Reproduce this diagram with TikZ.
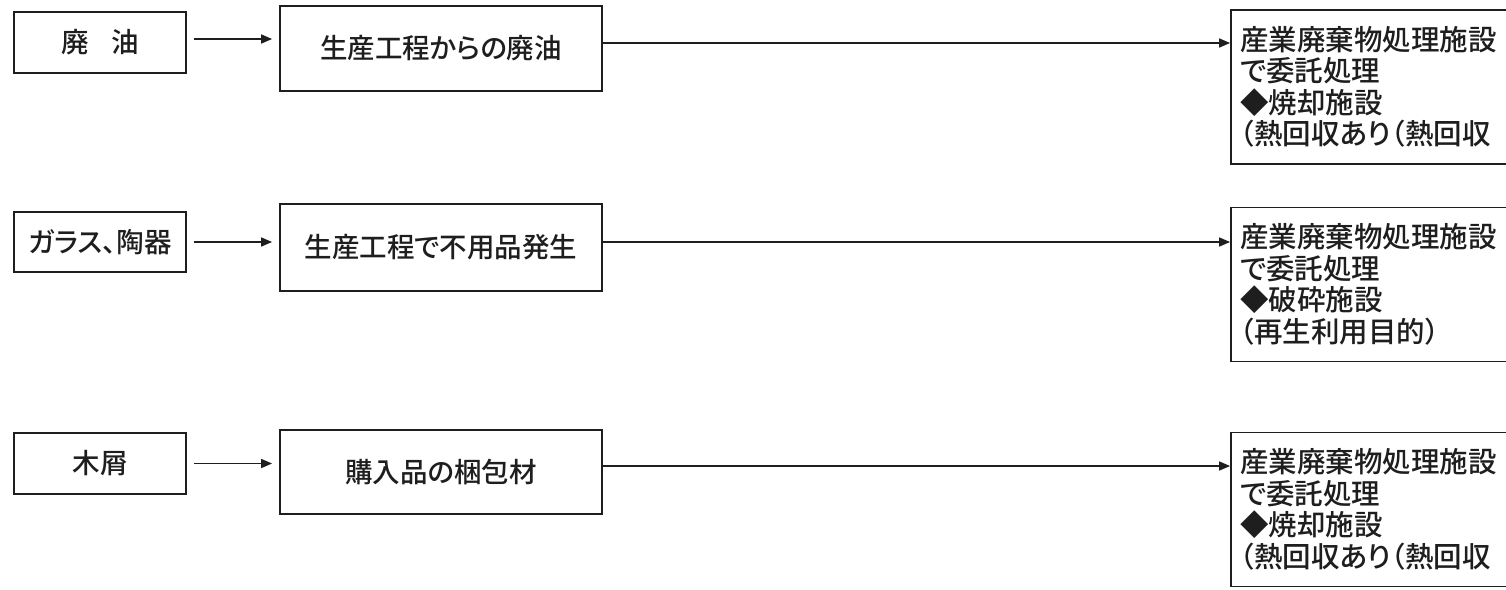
\documentclass[tikz,border=0pt]{standalone}
\usepackage{fontspec}
\setmainfont{Noto Sans CJK JP}[UprightFont=* Medium, RawFeature=+palt]
\usetikzlibrary{arrows.meta}
\definecolor{ink}{HTML}{1E1E1E}
\begin{document}
\begin{tikzpicture}[x=1pt,y=-1pt,
  box/.style={draw=ink, line width=1.8pt, rectangle, inner sep=0pt, text=ink,
    font=\fontsize{27.5}{31}\selectfont},
  srcbox/.style={box, minimum width=172pt},
  procbox/.style={box, minimum width=322pt},
  dstbox/.style={box, minimum width=281pt, minimum height=154pt, text width=268pt,
    align=left, inner xsep=9pt, font=\fontsize{28.5}{31.5}\selectfont},
  arr/.style={draw=ink, line width=1.6pt, -{Triangle[length=11pt,width=9pt]}}]
\useasboundingbox (0,0) rectangle (1506,589);
\fill[white] (0,0) rectangle (1506,589);
% row 1
\node[srcbox, minimum height=61pt] (L1) at (100,42.5) {廃\hspace{22pt}油};
\node[procbox, minimum height=85pt] (M1) at (441,48.5) {生産工程からの廃油};
\node[dstbox] (R1) at (1374,87) {産業廃棄物処理施設\\で委託処理\\◆焼却施設\\（熱回収あり（熱回収};
% row 2
\node[srcbox, minimum height=60pt] (L2) at (100,242) {ガラス、陶器};
\node[procbox, minimum height=87pt] (M2) at (441,247.5) {生産工程で不用品発生};
\node[dstbox] (R2) at (1374,284.5) {産業廃棄物処理施設\\で委託処理\\◆破砕施設\\（再生利用目的）};
% row 3
\node[srcbox, minimum height=61pt] (L3) at (100,463.5) {木屑};
\node[procbox, minimum height=84pt] (M3) at (441,472) {購入品の梱包材};
\node[dstbox] (R3) at (1374,509.5) {産業廃棄物処理施設\\で委託処理\\◆焼却施設\\（熱回収あり（熱回収};
% arrows
\draw[arr, shorten <=7pt, shorten >=7pt] ([yshift=3.5pt]L1.east) -- ([yshift=3.5pt]L1.east -| M1.west);
\draw[arr] ([yshift=5.5pt]M1.east) -- ([yshift=5.5pt]M1.east -| R1.west);
\draw[arr, shorten <=7pt, shorten >=7pt] (L2.east) -- (L2.east -| M2.west);
\draw[arr] ([yshift=5.5pt]M2.east) -- ([yshift=5.5pt]M2.east -| R2.west);
\draw[arr, shorten <=7pt, shorten >=7pt] (L3.east) -- (L3.east -| M3.west);
\draw[arr] ([yshift=6pt]M3.east) -- ([yshift=6pt]M3.east -| R3.west);
\end{tikzpicture}
\end{document}
